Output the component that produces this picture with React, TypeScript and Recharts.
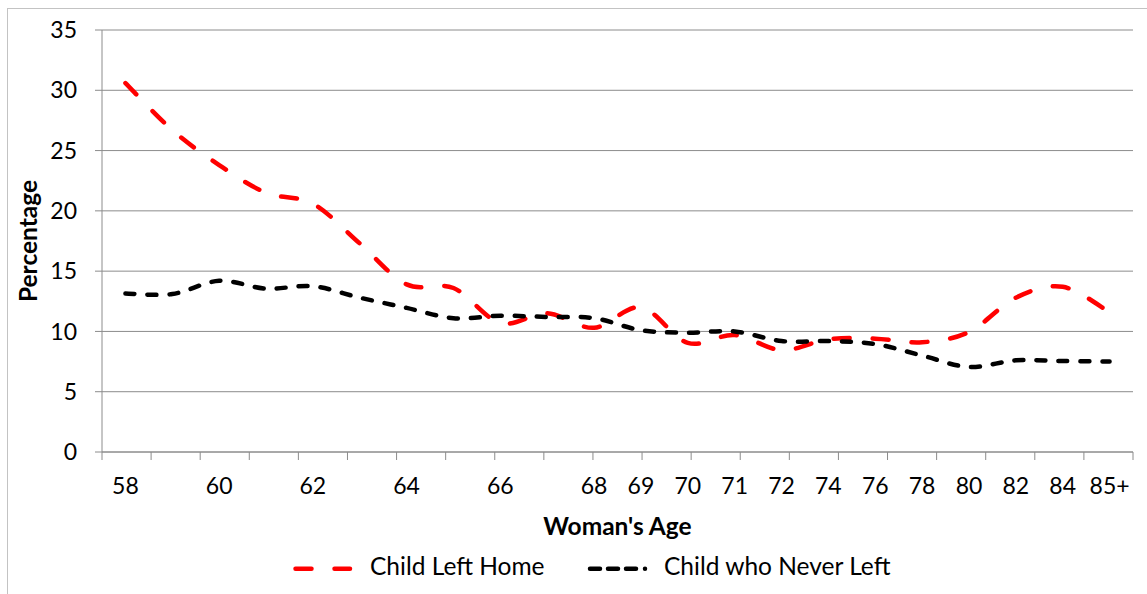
import React from "react";
import { LineChart, Line, XAxis, YAxis, CartesianGrid } from "recharts";

const AGES = ["58", "59", "60", "61", "62", "63", "64", "65", "66", "67", "68", "69", "70", "71", "72", "74", "76", "78", "80", "82", "84", "85+"];
const HIDDEN_AGE_LABELS = ["59", "61", "63", "65", "67"];

const LEFT_HOME = [30.6, 26.7, 23.8, 21.5, 20.6, 17.3, 13.9, 13.6, 10.7, 11.5, 10.3, 12.0, 9.05, 9.7, 8.45, 9.35, 9.4, 9.1, 9.95, 12.8, 13.7, 11.6];
const NEVER_LEFT = [13.15, 13.1, 14.2, 13.55, 13.75, 12.8, 11.95, 11.1, 11.3, 11.2, 11.1, 10.1, 9.9, 10.0, 9.2, 9.2, 8.95, 8.0, 7.05, 7.6, 7.55, 7.5];

const Y_TICKS = [0, 5, 10, 15, 20, 25, 30, 35];

const FONT = "Lato, 'Open Sans', sans-serif";
const AXIS_GRAY = "#8c8c8c";
const RED = "#ff0000";
const BLACK = "#000000";
const RED_DASH = "16 23";
const BLACK_DASH = "9 13";

const data = AGES.map((age, i) => ({
  age,
  leftHome: LEFT_HOME[i],
  neverLeft: NEVER_LEFT[i],
}));

// category boundaries, so tick marks fall between ages like in Excel
const EDGE_TICKS = Array.from({ length: AGES.length + 1 }, (_, i) => i);

// smoothed line close to Excel's "smoothed line" (catmull-rom style bezier)
function excelSmooth(context: any) {
  let pts: number[][] = [];
  return {
    areaStart() {},
    areaEnd() {},
    lineStart() {
      pts = [];
    },
    point(x: number, y: number) {
      pts.push([+x, +y]);
    },
    lineEnd() {
      if (!pts.length) return;
      context.moveTo(pts[0][0], pts[0][1]);
      for (let i = 0; i < pts.length - 1; i++) {
        const p0 = pts[Math.max(i - 1, 0)];
        const p1 = pts[i];
        const p2 = pts[i + 1];
        const p3 = pts[Math.min(i + 2, pts.length - 1)];
        context.bezierCurveTo(
          p1[0] + (p2[0] - p0[0]) / 6,
          p1[1] + (p2[1] - p0[1]) / 6,
          p2[0] - (p3[0] - p1[0]) / 6,
          p2[1] - (p3[1] - p1[1]) / 6,
          p2[0],
          p2[1]
        );
      }
    },
  };
}

function LegendOverlay() {
  return (
    <svg width={640} height={44} style={{ position: "absolute", left: 280, top: 548 }}>
      <line x1={15.5} x2={70} y1={20.7} y2={20.7} stroke={RED} strokeWidth={4.5} strokeLinecap="round" strokeDasharray={RED_DASH} />
      <text x={90} y={26.7} fontFamily={FONT} fontSize={24.5} fill="#000">
        Child Left Home
      </text>
      <line x1={310} x2={366} y1={20.7} y2={20.7} stroke={BLACK} strokeWidth={4.5} strokeLinecap="round" strokeDasharray="10 8 10 8 10 9 0 10" />
      <text x={384} y={26.7} fontFamily={FONT} fontSize={24.5} fill="#000">
        Child who Never Left
      </text>
    </svg>
  );
}

export default function App() {
  return (
    <div style={{ position: "absolute", left: 0, top: 0, width: 1147, height: 594, overflow: "hidden", background: "#fff" }}>
      <div style={{ position: "absolute", left: 7, top: 8, width: 1200, height: 700, border: "1px solid #c3c3c3" }} />
      <LineChart width={1147} height={594} data={data} margin={{ top: 30, right: 14, left: 0, bottom: 42 }} style={{ position: "absolute", left: 0, top: 0 }}>
        <CartesianGrid vertical={false} stroke={AXIS_GRAY} strokeWidth={1} />
        <XAxis
          xAxisId="category"
          dataKey="age"
          type="category"
          scale="band"
          interval={0}
          height={99}
          axisLine={false}
          tickLine={false}
          tickSize={6}
          tickMargin={19}
          tickFormatter={(v: string) => (HIDDEN_AGE_LABELS.includes(v) ? "" : v)}
          tick={{ fill: "#000", fontSize: 23, fontFamily: FONT }}
          label={(props: any) => {
            const vb = props.viewBox;
            return (
              <text x={vb.x + vb.width / 2} y={vb.y + 82} textAnchor="middle" fontFamily={FONT} fontSize={24.5} fontWeight="bold" fill="#000">
                Woman's Age
              </text>
            );
          }}
        />
        <XAxis
          xAxisId="axisEdge"
          type="number"
          domain={[0, AGES.length]}
          ticks={EDGE_TICKS}
          interval={0}
          tick={{ fontSize: 0 }}
          tickFormatter={() => ""}
          tickSize={8}
          height={1}
          axisLine={{ stroke: AXIS_GRAY }}
          tickLine={{ stroke: AXIS_GRAY }}
          allowDataOverflow
        />
        <YAxis
          width={102}
          domain={[0, 35]}
          ticks={Y_TICKS}
          interval={0}
          tickSize={7}
          tickMargin={18}
          axisLine={{ stroke: AXIS_GRAY }}
          tickLine={{ stroke: AXIS_GRAY }}
          tick={{ fill: "#000", fontSize: 23, fontFamily: FONT }}
          label={(props: any) => {
            const vb = props.viewBox;
            const cx = vb.x + 37;
            const cy = vb.y + vb.height / 2;
            return (
              <text x={cx} y={cy} transform={`rotate(-90 ${cx} ${cy})`} textAnchor="middle" fontFamily={FONT} fontSize={24.5} fontWeight="bold" fill="#000">
                Percentage
              </text>
            );
          }}
        />
        <Line
          xAxisId="category"
          dataKey="leftHome"
          name="Child Left Home"
          type={excelSmooth as any}
          stroke={RED}
          strokeWidth={4.5}
          strokeDasharray={RED_DASH}
          strokeLinecap="round"
          dot={false}
          activeDot={false}
          isAnimationActive={false}
        />
        <Line
          xAxisId="category"
          dataKey="neverLeft"
          name="Child who Never Left"
          type={excelSmooth as any}
          stroke={BLACK}
          strokeWidth={4.5}
          strokeDasharray={BLACK_DASH}
          strokeLinecap="round"
          dot={false}
          activeDot={false}
          isAnimationActive={false}
        />
      </LineChart>
      <LegendOverlay />
    </div>
  );
}
